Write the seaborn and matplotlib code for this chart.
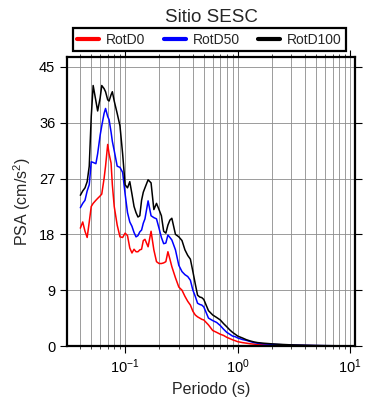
import numpy as np
import pandas as pd
import matplotlib
matplotlib.use("Agg")
import matplotlib.pyplot as plt
import seaborn as sns
from matplotlib.ticker import LogLocator, NullFormatter

periods = [0.040, 0.042, 0.044, 0.046, 0.048, 0.050, 0.052, 0.055, 0.057, 0.060,
           0.062, 0.065, 0.067, 0.070, 0.072, 0.075, 0.077, 0.080, 0.085, 0.090,
           0.095, 0.100, 0.105, 0.110, 0.115, 0.120, 0.125, 0.130, 0.135, 0.140,
           0.145, 0.150, 0.160, 0.170, 0.180, 0.190, 0.200, 0.210, 0.220, 0.230,
           0.240, 0.250, 0.260, 0.280, 0.300, 0.320, 0.340, 0.360, 0.380, 0.400,
           0.420, 0.440, 0.460, 0.480, 0.500, 0.550, 0.600, 0.650, 0.700, 0.750,
           0.800, 0.850, 0.900, 0.950, 1.0, 1.1, 1.2, 1.3, 1.4, 1.5,
           1.7, 2.0, 2.5, 3.0, 4.0, 5.0, 6.0, 7.5, 10.0]

rotd100 = [24.3, 25.0, 25.5, 26.5, 29.0, 37.0, 42.0, 39.5, 37.9, 40.0,
           42.0, 41.5, 41.0, 39.7, 39.5, 40.5, 41.0, 39.5, 37.5, 35.5,
           31.0, 26.0, 25.5, 26.5, 24.5, 22.5, 21.5, 20.8, 21.0, 23.5,
           24.8, 25.5, 26.8, 26.3, 22.0, 23.0, 22.0, 21.0, 18.5, 18.2,
           19.5, 20.3, 20.6, 18.0, 17.6, 17.0, 15.5, 14.6, 14.0, 12.0,
           10.0, 8.2, 7.9, 7.8, 7.5, 5.7, 5.0, 4.6, 4.2, 3.6,
           3.1, 2.6, 2.2, 1.9, 1.6, 1.3, 1.0, 0.8, 0.65, 0.55,
           0.45, 0.35, 0.25, 0.18, 0.12, 0.08, 0.06, 0.04, 0.03]

rotd50 = [22.3, 23.0, 23.5, 25.0, 26.0, 29.7, 29.6, 29.4, 31.0, 34.0,
          35.5, 37.5, 38.3, 37.0, 36.5, 34.5, 33.0, 31.5, 29.0, 28.8,
          28.0, 24.5, 21.5, 20.0, 19.3, 18.3, 17.6, 17.8, 18.4, 18.7,
          19.8, 20.5, 23.4, 21.0, 20.7, 20.5, 19.0, 17.5, 16.5, 16.6,
          17.9, 17.5, 17.1, 15.5, 13.0, 12.0, 11.5, 11.2, 10.6, 9.0,
          8.0, 6.9, 6.7, 6.6, 6.3, 4.5, 4.1, 3.8, 3.3, 2.7,
          2.2, 1.9, 1.6, 1.5, 1.3, 1.05, 0.9, 0.7, 0.55, 0.45,
          0.35, 0.27, 0.2, 0.15, 0.1, 0.07, 0.05, 0.035, 0.025]

rotd0 = [19.0, 20.0, 18.5, 17.5, 20.0, 22.5, 23.0, 23.5, 23.8, 24.2,
         24.5, 27.0, 29.0, 32.5, 31.0, 29.5, 26.0, 22.5, 19.5, 17.6,
         17.5, 18.2, 17.8, 15.8, 15.0, 15.6, 15.2, 15.2, 15.5, 15.6,
         17.0, 17.2, 16.0, 18.5, 15.5, 13.6, 13.3, 13.3, 13.4, 13.6,
         15.2, 14.0, 12.8, 11.0, 9.5, 9.0, 8.0, 7.2, 6.6, 5.6,
         5.0, 4.7, 4.5, 4.3, 4.2, 3.4, 2.5, 2.2, 1.9, 1.7,
         1.4, 1.2, 1.0, 0.85, 0.7, 0.55, 0.45, 0.35, 0.3, 0.25,
         0.2, 0.15, 0.12, 0.09, 0.06, 0.045, 0.035, 0.025, 0.02]

series_names = ["RotD0", "RotD50", "RotD100"]
series_colors = ["#ff0000", "#0000ff", "#000000"]
y_ticks = [0, 9, 18, 27, 36, 45]

df = pd.concat([
    pd.DataFrame({"Periodo": periods, "PSA": vals, "Serie": name})
    for name, vals in zip(series_names, [rotd0, rotd50, rotd100])
], ignore_index=True)

sns.set_theme(style="white")
plt.rcParams['font.family'] = ['Liberation Sans', 'DejaVu Sans']
plt.rcParams['mathtext.fontset'] = 'custom'
plt.rcParams['mathtext.rm'] = 'Liberation Sans'
plt.rcParams['mathtext.it'] = 'Liberation Sans:italic'

fig = plt.figure(figsize=(3.9, 4.0), dpi=100)
ax = fig.add_axes([0.172, 0.135, 0.738, 0.7225])

sns.lineplot(data=df, x="Periodo", y="PSA", hue="Serie",
             hue_order=series_names, palette=series_colors,
             linewidth=1.1, ax=ax, legend=True, sort=False)

ax.set_xscale("log")
ax.set_xlim(0.0305, 11.0)
ax.set_ylim(0, 46.6)
ax.set_yticks(y_ticks)
ax.xaxis.set_major_locator(LogLocator(base=10, numticks=10))
ax.xaxis.set_minor_locator(LogLocator(base=10, subs=np.arange(2, 10), numticks=20))
ax.xaxis.set_minor_formatter(NullFormatter())

ax.grid(True, which="major", axis="both", color="#8c8c8c", linewidth=0.6)
ax.grid(True, which="minor", axis="x", color="#8c8c8c", linewidth=0.6)

for s in ax.spines.values():
    s.set_linewidth(1.6)
    s.set_color("black")

ax.tick_params(which="major", direction="out", length=5, width=0.8,
               top=True, right=True, bottom=True, left=True,
               labelsize=10.5, colors="black")
ax.tick_params(which="minor", direction="out", length=2.5, width=0.6,
               top=True, bottom=True)

ax.set_xlabel("Periodo (s)", fontsize=11.5)
ax.set_ylabel("PSA (cm/s$^2$)", fontsize=11.5)
ax.set_title("Sitio SESC", fontsize=13.5, pad=25)

handles, labels = ax.get_legend_handles_labels()
for h in handles:
    h.set_linewidth(3)
leg = ax.legend(handles, labels, ncol=3, loc="lower center",
                bbox_to_anchor=(0.495, 1.02), frameon=True, fancybox=False,
                fontsize=10, handlelength=1.6, handletextpad=0.5,
                columnspacing=1.3, borderpad=0.32, borderaxespad=0)
leg.get_frame().set_edgecolor("black")
leg.get_frame().set_linewidth(1.6)
leg.get_frame().set_alpha(1)

fig.savefig("out.png", dpi=100)
